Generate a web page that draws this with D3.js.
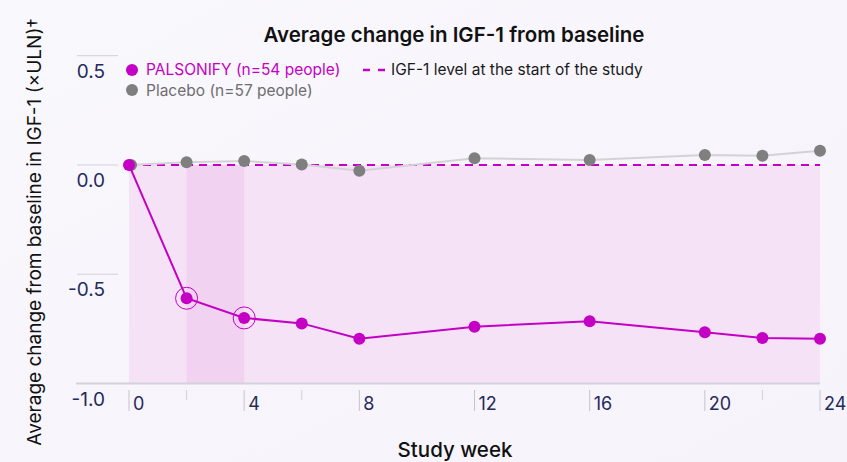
<!DOCTYPE html>
<html>
<head>
<meta charset="utf-8">
<script src="https://cdn.jsdelivr.net/npm/d3@7"></script>
<style>
	html, body { margin: 0; padding: 0; }
	body { width: 847px; height: 462px; overflow: hidden; background: #f8f6fc; font-family: Inter, "Noto Sans", sans-serif; }
</style>
</head>
<body>
<div id="chart"></div>
<script>
var weeks = [0, 2, 4, 6, 8, 12, 16, 20, 22, 24];
var palsonify = [0, -0.61, -0.70, -0.725, -0.795, -0.74, -0.715, -0.765, -0.792, -0.795];
var placebo = [0, 0.012, 0.018, 0.002, -0.026, 0.031, 0.023, 0.046, 0.042, 0.065];
var majorTicks = [0, 4, 8, 12, 16, 20, 24];
var minorTicks = [2, 6, 22];
var yTicks = [0.5, 0.0, -0.5, -1.0];
var ringWeeks = [2, 4];

var width = 847,
	height = 462,
	svg = d3.select('#chart').append('svg').attr('width', width).attr('height', height);

var x = d3.scaleLinear().domain([0, 24]).range([129, 820]);
var y = d3.scaleLinear().domain([-1, 0.5]).range([383.5, 55.7]);

var magenta = '#c400c4',
	grey = '#7f7f7f',
	navy = '#252a5c';

// background gradient
var defs = svg.append('defs');
var bg = defs.append('linearGradient').attr('id', 'bg').attr('x1', 0).attr('y1', 0).attr('x2', 1).attr('y2', 1);
bg.append('stop').attr('offset', 0).attr('stop-color', '#f9f8fd');
bg.append('stop').attr('offset', 1).attr('stop-color', '#f6f3fa');
svg.append('rect').attr('width', width).attr('height', height).attr('fill', 'url(#bg)');

// shaded area under baseline
svg.append('rect')
	.attr('x', x(0)).attr('y', y(0))
	.attr('width', x(24) - x(0)).attr('height', y(-1) - y(0))
	.attr('fill', '#f5e2f6');
svg.append('rect')
	.attr('x', x(2)).attr('y', y(0))
	.attr('width', x(4) - x(2)).attr('height', y(-1) - y(0))
	.attr('fill', '#f1d2f1');

// y gridlines + labels
svg.selectAll('.ygrid').data(yTicks.filter(function (d) { return d > -1; }))
	.enter().append('line')
	.attr('x1', 77).attr('x2', 118)
	.attr('y1', function (d) { return y(d); }).attr('y2', function (d) { return y(d); })
	.attr('stroke', '#d2d0d8').attr('stroke-width', 1);

svg.selectAll('.ylab').data(yTicks)
	.enter().append('text')
	.attr('x', 105).attr('y', function (d) { return y(d) + 22; })
	.attr('text-anchor', 'end')
	.style('font-size', '19px')
	.style('fill', navy)
	.text(function (d) { return d3.format('.1f')(d).replace('−', '-'); });

// x axis line
svg.append('line')
	.attr('x1', 76).attr('x2', x(24))
	.attr('y1', y(-1)).attr('y2', y(-1))
	.attr('stroke', '#d3d1d9').attr('stroke-width', 2);

// x ticks
svg.selectAll('.xmaj').data(majorTicks)
	.enter().append('line')
	.attr('x1', function (d) { return x(d); }).attr('x2', function (d) { return x(d); })
	.attr('y1', 390).attr('y2', 411)
	.attr('stroke', '#c5c3cc').attr('stroke-width', 1);
svg.selectAll('.xmin').data(minorTicks)
	.enter().append('line')
	.attr('x1', function (d) { return x(d); }).attr('x2', function (d) { return x(d); })
	.attr('y1', 390).attr('y2', 400)
	.attr('stroke', '#d3d1d9').attr('stroke-width', 1);
svg.selectAll('.xlab').data(majorTicks)
	.enter().append('text')
	.attr('x', function (d) { return x(d) + 4; }).attr('y', 410)
	.style('font-size', '18px')
	.style('fill', navy)
	.text(function (d) { return d; });

// baseline dashed
svg.append('line')
	.attr('x1', x(0)).attr('x2', x(24))
	.attr('y1', y(0)).attr('y2', y(0))
	.attr('stroke', magenta).attr('stroke-width', 2)
	.attr('stroke-dasharray', '8,6');

var line = d3.line()
	.x(function (d) { return x(d[0]); })
	.y(function (d) { return y(d[1]); });

var placeboPts = weeks.map(function (w, i) { return [w, placebo[i]]; });
var palsPts = weeks.map(function (w, i) { return [w, palsonify[i]]; });

svg.append('path').datum(placeboPts)
	.attr('d', line).attr('fill', 'none')
	.attr('stroke', '#d4d2d6').attr('stroke-width', 2);
svg.selectAll('.pdot').data(placeboPts)
	.enter().append('circle')
	.attr('cx', function (d) { return x(d[0]) + (d[0] === 0 ? 2 : 0); })
	.attr('cy', function (d) { return y(d[1]); })
	.attr('r', 6).attr('fill', grey);

svg.append('path').datum(palsPts)
	.attr('d', line).attr('fill', 'none')
	.attr('stroke', magenta).attr('stroke-width', 2);
svg.selectAll('.ring').data(palsPts.filter(function (d) { return ringWeeks.indexOf(d[0]) >= 0; }))
	.enter().append('circle')
	.attr('cx', function (d) { return x(d[0]); })
	.attr('cy', function (d) { return y(d[1]); })
	.attr('r', 11).attr('fill', 'none')
	.attr('stroke', magenta).attr('stroke-width', 1);
svg.selectAll('.mdot').data(palsPts)
	.enter().append('circle')
	.attr('cx', function (d) { return x(d[0]); })
	.attr('cy', function (d) { return y(d[1]); })
	.attr('r', 6).attr('fill', magenta);

// title
svg.append('text')
	.attr('x', 454).attr('y', 42)
	.attr('text-anchor', 'middle')
	.style('font-size', '20.5px').style('font-weight', 600)
	.style('fill', '#111')
	.text('Average change in IGF-1 from baseline');

// legend
svg.append('circle').attr('cx', 132).attr('cy', 70).attr('r', 6).attr('fill', magenta);
svg.append('text').attr('x', 146).attr('y', 75)
	.style('font-size', '15.5px').style('fill', magenta)
	.text('PALSONIFY (n=54 people)');
svg.append('circle').attr('cx', 132).attr('cy', 90).attr('r', 6).attr('fill', grey);
svg.append('text').attr('x', 146).attr('y', 96)
	.style('font-size', '15.5px').style('fill', '#6e6e6e')
	.text('Placebo (n=57 people)');
svg.append('line')
	.attr('x1', 363).attr('x2', 385).attr('y1', 70).attr('y2', 70)
	.attr('stroke', magenta).attr('stroke-width', 2.5)
	.attr('stroke-dasharray', '7,8');
svg.append('text').attr('x', 391).attr('y', 75)
	.style('font-size', '15.5px').style('fill', '#1a1a1a')
	.text('IGF-1 level at the start of the study');

// axis titles
svg.append('text')
	.attr('transform', 'translate(41,232) rotate(-90)')
	.attr('text-anchor', 'middle')
	.style('font-size', '19px').style('fill', '#111')
	.text('Average change from baseline in IGF-1 (×ULN)†');
svg.append('text')
	.attr('x', 455).attr('y', 457)
	.attr('text-anchor', 'middle')
	.style('font-size', '20.5px').style('font-weight', 500)
	.style('fill', '#111')
	.text('Study week');
</script>
</body>
</html>
